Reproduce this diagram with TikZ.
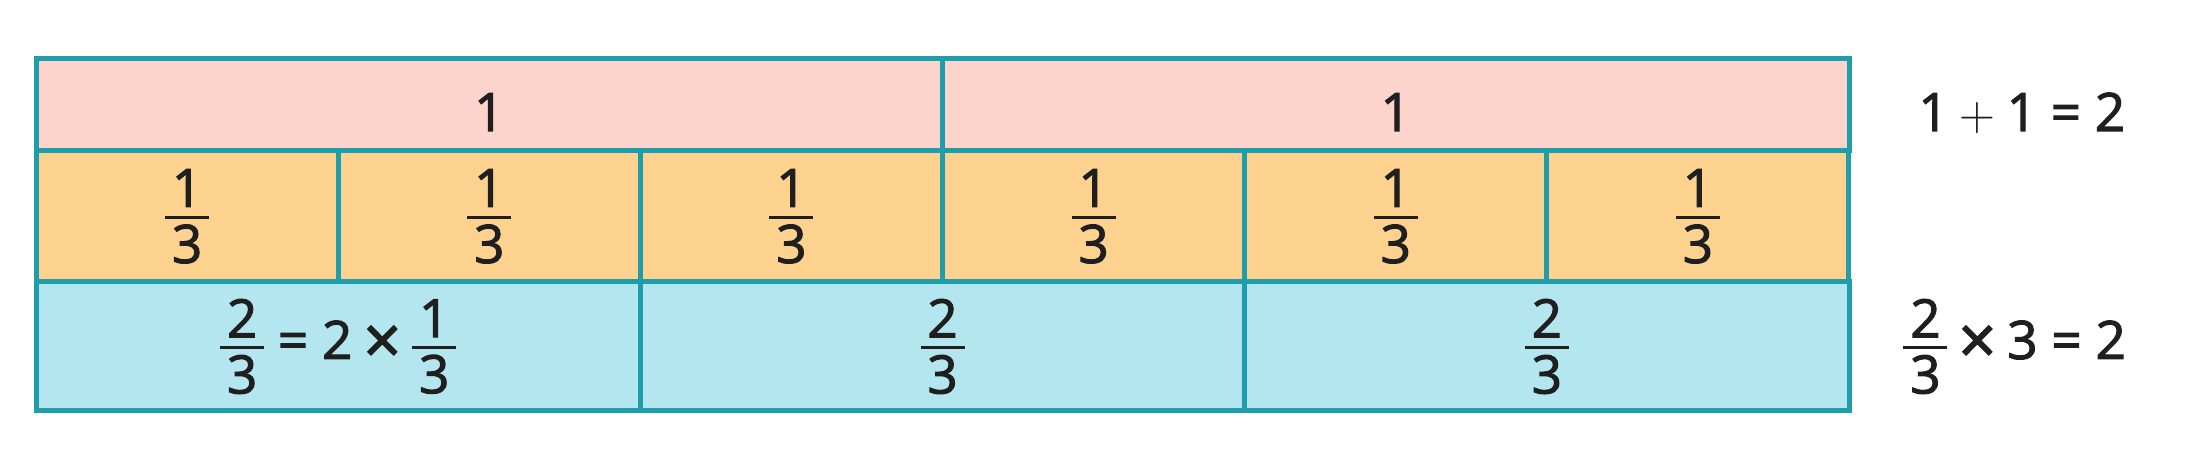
\documentclass[tikz,border=0pt]{standalone}
\usepackage{amsmath}
\usepackage{fontspec}
\setmainfont{Open Sans}[FakeBold=2]
\usepackage{tikz}
\usetikzlibrary{positioning}
\definecolor{barline}{RGB}{32,157,170}
\definecolor{wholefill}{RGB}{252,212,204}
\definecolor{thirdfill}{RGB}{252,210,142}
\definecolor{twofill}{RGB}{180,230,240}
\newcommand{\opplus}{\mathbin{+}}
\newcommand{\opeq}{\mathrel{\text{=}}}
\newcommand{\optimes}{\mathbin{\raisebox{-2.4pt}{\fontsize{33}{33}\selectfont ×}}}
\newcommand{\barfrac}[2]{\mathord{\vcenter{\hbox{\vbox{%
    \hbox to 22pt{\hss#1\hss}\kern4.5pt\hrule height 1.35pt\kern3pt
    \hbox to 22pt{\hss#2\hss}}}}}}
\newcommand{\onethird}{\barfrac{1}{3}}
\newcommand{\twothirds}{\barfrac{2}{3}}

\begin{document}
\begin{tikzpicture}[
            cell/.style={rectangle, draw=barline, line width=2.5pt,
                        inner sep=0pt, outer sep=0pt, text=black!88,
                        font=\fontsize{26.5}{32}\selectfont},
            whole/.style={cell, fill=wholefill, minimum width=453.25pt,
                        minimum height=46pt, text height=26.5pt, text depth=0pt},
            third/.style={cell, fill=thirdfill, minimum width=151.08pt,
                        minimum height=65.75pt},
            twothird/.style={cell, fill=twofill, minimum width=302.17pt,
                        minimum height=64.5pt},
            sum/.style={inner sep=0pt, text=black!88,
                        font=\fontsize{26.5}{32}\selectfont}
        ]
            \useasboundingbox (0,0) rectangle (1099pt,-237pt);

            % row of wholes
            \node[whole, anchor=north west] (h1) at (18pt,-29.25pt) {1};
            \node[whole, right=0pt of h1] (h2) {1};

            % row of thirds
            \node[third, anchor=north west] (t1) at (h1.south west) {$\onethird$};
            \node[third, right=0pt of t1] (t2) {$\onethird$};
            \node[third, right=0pt of t2] (t3) {$\onethird$};
            \node[third, right=0pt of t3] (t4) {$\onethird$};
            \node[third, right=0pt of t4] (t5) {$\onethird$};
            \node[third, right=0pt of t5] (t6) {$\onethird$};

            % row of two thirds
            \node[twothird, anchor=north west] (b1) at (t1.south west)
                {$\twothirds \opeq \text{2} \optimes \onethird$};
            \node[twothird, right=0pt of b1] (b2) {$\twothirds$};
            \node[twothird, right=0pt of b2] (b3) {$\twothirds$};

            % sums on the right
            \node[sum, right=34.5pt of h2, text height=26.5pt, text depth=0pt] (wsum)
                {$\text{1} \opplus \text{1} \opeq \text{2}$};
            \node[sum, right=27pt of b3] (tsum)
                {$\twothirds \optimes \text{3} \opeq \text{2}$};
        \end{tikzpicture}
\end{document}
